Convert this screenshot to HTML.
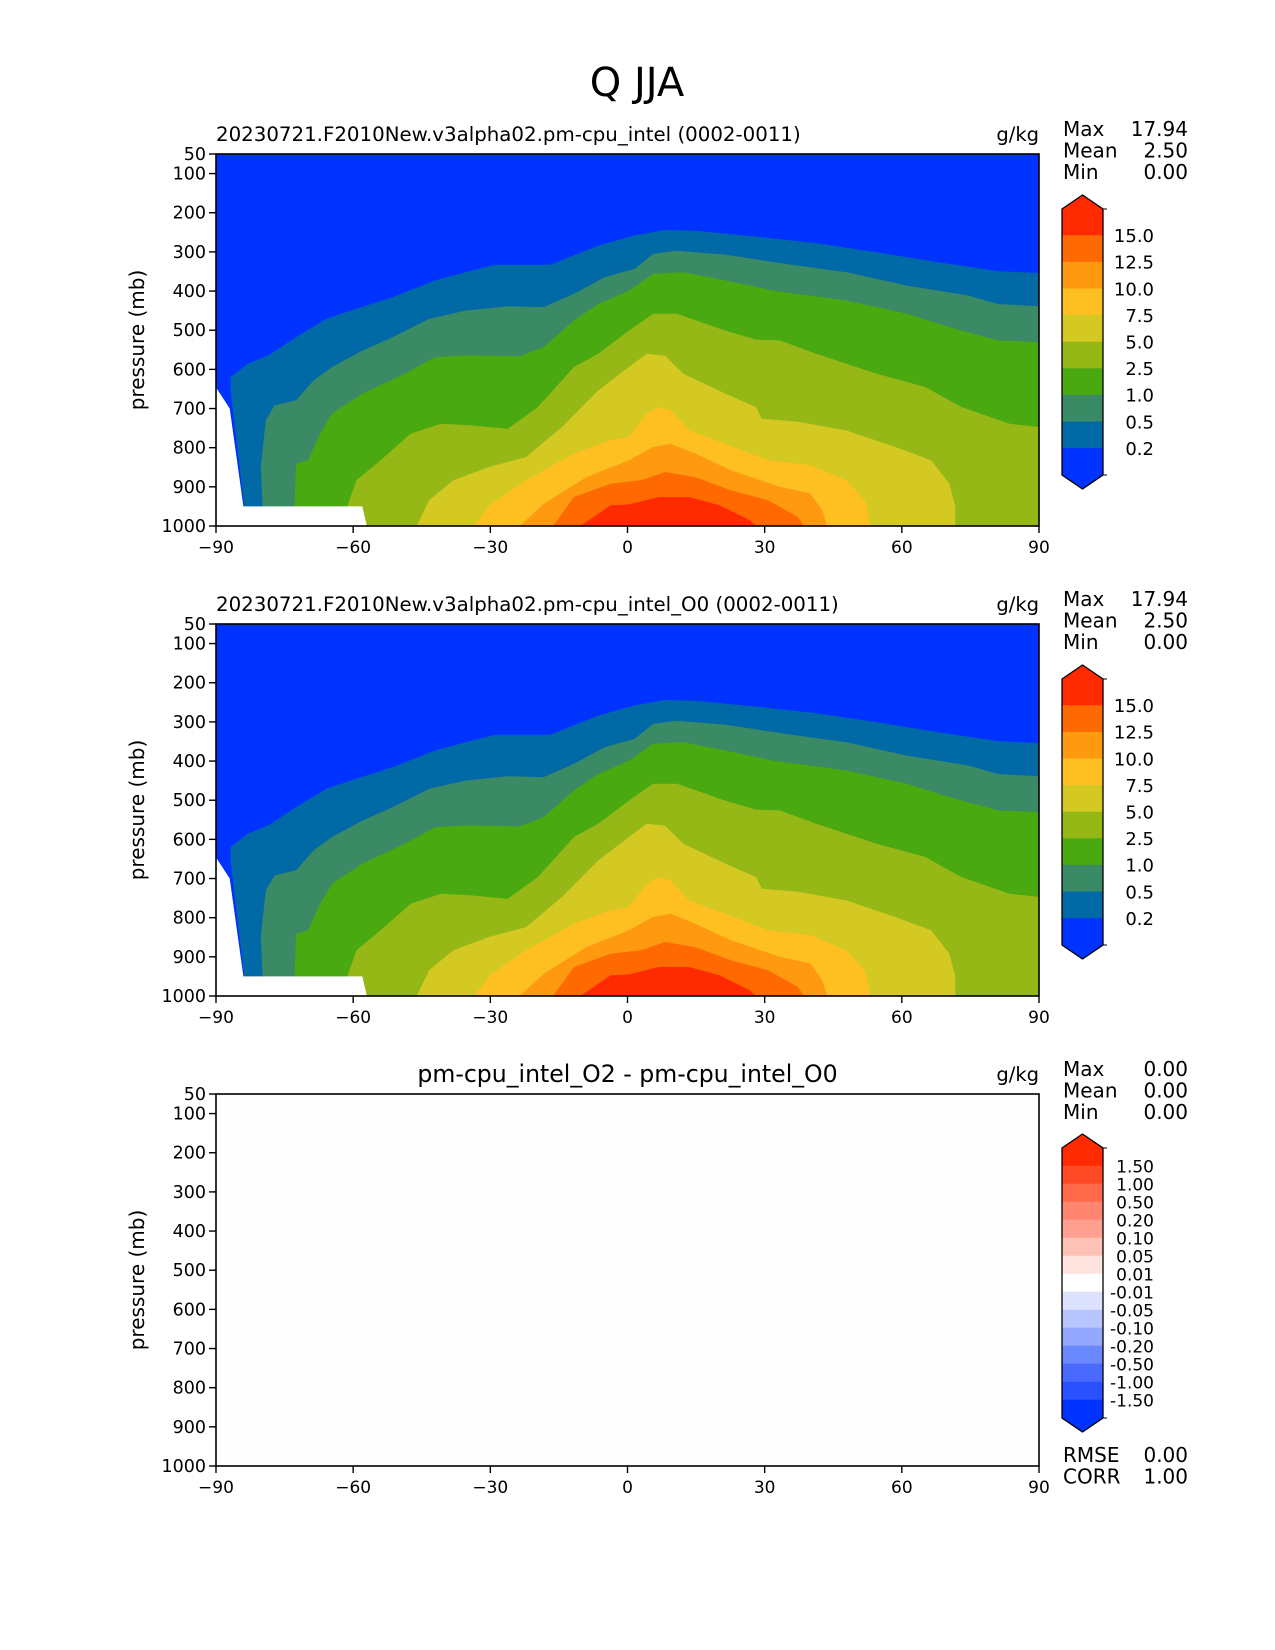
<!DOCTYPE html>
<html><head><meta charset="utf-8"><style>
html,body{margin:0;padding:0;background:#fff;}
svg{display:block;font-family:"DejaVu Sans","Liberation Sans",sans-serif;}
</style></head><body>
<svg id="fig" width="1275" height="1650" viewBox="0 0 1275 1650" xmlns="http://www.w3.org/2000/svg">
<rect width="1275" height="1650" fill="#fff"/>
<text x="637" y="96" font-size="40" text-anchor="middle">Q JJA</text>
</svg>
<script>
// ---- data ----
const levelValues = [0.2, 0.5, 1.0, 2.5, 5.0, 7.5, 10.0, 12.5, 15.0];
const levelColors = ["#0069a6","#3a8a66","#4aa810","#96b817","#d4c822","#fdc020","#ff9a10","#ff6a00","#ff2a00"];
const belowColor = "#0033ff";
const cbLabels1 = ["15.0","12.5","10.0","7.5","5.0","2.5","1.0","0.5","0.2"];
const diffLabels = ["1.50","1.00","0.50","0.20","0.10","0.05","0.01","-0.01","-0.05","-0.10","-0.20","-0.50","-1.00","-1.50"];
const diffColors = ["#ff2a00","#ff4a25","#ff6a4a","#ff8570","#ffa090","#ffc0b5","#ffe3df","#ffffff","#dde3ff","#b8c6ff","#95a8ff","#6a88ff","#4a6aff","#2a50ff","#0033ff"];
const xTicks = [-90,-60,-30,0,30,60,90];
const yTicks = [50,100,200,300,400,500,600,700,800,900,1000];
const c02 = [[-83.8,1000],[-83.8,951],[-86.8,655],[-86.8,620],[-83.1,586],[-78.5,564],[-72.5,518],[-65.9,471],[-59.3,445],[-51.4,416],[-42.1,373],[-34.2,348],[-28.9,333],[-16.9,333],[-6.4,284],[1.6,258],[8.2,244],[14.8,246],[28.1,261],[41.3,278],[54.5,301],[67.8,326],[81.0,349],[90,354]];
const c05 = [[-79.8,1000],[-79.8,951],[-80.2,849],[-79.1,730],[-77.2,692],[-72.5,679],[-68.6,628],[-64.6,594],[-58,552],[-51.4,518],[-43.4,471],[-35.5,450],[-26.2,439],[-18.3,441],[-11.7,407],[-5,365],[1.6,343],[5.6,305],[10.8,297],[21.4,307],[34.7,331],[47.9,352],[61.1,386],[74.4,411],[81,433],[90,439]];
const c10 = [[-72.8,1000],[-72.8,951],[-72.5,841],[-69.9,832],[-67.2,764],[-64.6,713],[-58,662],[-48.7,611],[-42.1,569],[-35.5,564],[-23.6,567],[-18.3,543],[-11.7,475],[-6.4,433],[0.3,399],[5.6,356],[12.2,352],[21.4,373],[32,399],[47.9,424],[61.1,458],[70.4,492],[81,526],[90,530]];
const c25 = [[-61.3,1000],[-61.3,951],[-59.3,883],[-54,832],[-47.4,764],[-40.8,739],[-34.2,743],[-26.2,752],[-19.6,696],[-11.7,594],[-6.4,560],[0.3,501],[5.6,458],[10.8,458],[21.4,501],[28.1,524],[33.3,526],[41.3,560],[54.5,611],[65.1,645],[73,696],[83.6,739],[90,747]];
const c50 = [[-46.1,1000],[-43.4,934],[-38.1,883],[-30.2,849],[-22.2,824],[-14.3,747],[-6.4,654],[0.3,594],[4.2,560],[8.2,565],[12.2,611],[21.4,662],[28.1,696],[29.4,726],[37.3,734],[47.9,756],[58.5,798],[66.4,832],[70.4,892],[71.7,951],[71.7,1000]];
const c75 = [[-33.5,1000],[-30.2,947],[-22.2,883],[-11.7,815],[-3.7,781],[0.3,773],[4.2,713],[6.8,696],[9.5,705],[13.5,756],[21.4,790],[30.7,832],[40,845],[47.9,883],[51.9,934],[53.2,1000]];
const c100 = [[-23.6,1000],[-18.3,943],[-9,875],[0.3,832],[5.6,798],[9.5,790],[14.8,815],[22.7,858],[33.3,900],[40,917],[42.6,960],[43.7,1000]];
const c125 = [[-16.3,1000],[-11.7,926],[-3.7,892],[2.9,883],[8.2,862],[14.8,875],[22.7,909],[30.7,934],[37.3,977],[38.6,1000]];
const c150 = [[-10.3,1000],[-3.7,947],[0.3,945],[6.8,926],[13.5,926],[20.1,947],[26.7,985],[28.1,1000]];
const contours = [c02,c05,c10,c25,c50,c75,c100,c125,c150];
const groundMask = [[-90,646],[-87,700],[-84,950],[-58,950],[-57,1000],[-90,1000]];
const panelTitles = ["20230721.F2010New.v3alpha02.pm-cpu_intel (0002-0011)","20230721.F2010New.v3alpha02.pm-cpu_intel_O0 (0002-0011)","pm-cpu_intel_O2 - pm-cpu_intel_O0"];
const statNames = ["Max","Mean","Min"];
const statVals = [["17.94","2.50","0.00"],["17.94","2.50","0.00"],["0.00","0.00","0.00"]];

// ---- drawing ----
const NS="http://www.w3.org/2000/svg";
const fig=document.getElementById('fig');
function mk(tag,attrs,parent){const e=document.createElementNS(NS,tag);for(const k in attrs)e.setAttribute(k,attrs[k]);(parent||fig).appendChild(e);return e;}
const X0=216,X1=1039;
const panelTops=[154,624,1094];
const PH=372;
function xs(lat){return X0+(lat+90)/180*(X1-X0);}
function ysF(top){return p=>top+(p-50)/950*PH;}

panelTops.forEach((top,pi)=>{
  const ys=ysF(top);
  const g=mk('g',{});
  
  
  const cp=mk('clipPath',{id:'clip'+pi},g);
  mk('rect',{x:X0,y:top,width:X1-X0,height:PH},cp);
  const plot=mk('g',{'clip-path':'url(#clip'+pi+')'},g);
  
  
  if(pi<2){
    const bg=mk('rect',{x:X0,y:top,width:X1-X0,height:PH,fill:belowColor},plot);
    
    
    contours.forEach((c,k)=>{
      const pts=c.map(d=>xs(d[0]).toFixed(1)+','+ys(d[1]).toFixed(1));
      pts.push(xs(c[c.length-1][0]).toFixed(1)+','+ys(1000).toFixed(1));
      pts.push(xs(c[0][0]).toFixed(1)+','+ys(1000).toFixed(1));
      const poly=mk('polygon',{points:pts.join(' '),fill:levelColors[k]},plot);
      
      
    });
    const m=mk('polygon',{points:groundMask.map(d=>xs(d[0]).toFixed(1)+','+ys(d[1]).toFixed(1)).join(' '),fill:'#fff'},plot);
    
    
  } else {
    const bg=mk('rect',{x:X0,y:top,width:X1-X0,height:PH,fill:'#fefefe'},plot);
    
    
  }
  const frame=mk('rect',{x:X0,y:top,width:X1-X0,height:PH,fill:'none',stroke:'#000','stroke-width':1.6},g);
  
  
  yTicks.forEach(v=>{
    const y=ys(v);
    mk('line',{x1:X0-7,x2:X0,y1:y,y2:y,stroke:'#000','stroke-width':1.4},g);
    const t=mk('text',{x:X0-10,y:y+6,'font-size':17.5,'text-anchor':'end'},g);
    t.textContent=v;
    
    
  });
  xTicks.forEach(v=>{
    const x=xs(v);
    mk('line',{x1:x,x2:x,y1:top+PH,y2:top+PH+7,stroke:'#000','stroke-width':1.4},g);
    const t=mk('text',{x:x,y:top+PH+27,'font-size':17,'text-anchor':'middle'},g);
    t.textContent=(v<0?'\u2212'+(-v):String(v));
    
    
  });
  const yl=mk('text',{x:0,y:0,'font-size':20,'text-anchor':'middle',transform:'translate(144,'+(top+PH/2)+') rotate(-90)'},g);
  yl.textContent='pressure (mb)';
  
  
  const tt=mk('text',pi<2?{x:X0,y:top-13,'font-size':19.8}:{x:(X0+X1)/2,y:top-12,'font-size':23.6,'text-anchor':'middle'},g);
  tt.textContent=panelTitles[pi];
  
  
  const un=mk('text',{x:X1,y:top-13,'font-size':19.5,'text-anchor':'end'},g);
  un.textContent='g/kg';
  
  
  statNames.forEach((s,i)=>{
    const a=mk('text',{x:1063,y:top-18+i*21.5,'font-size':20},g);
    a.textContent=s;
    
    
    const b=mk('text',{x:1188,y:top-18+i*21.5,'font-size':20,'text-anchor':'end'},g);
    b.textContent=statVals[pi][i];
    
    
  });
  // colorbar
  const cb=mk('g',{},g);
  
  
  const L=1062,R=1103,M=(L+R)/2;
  let bodyTop,seg,cols,labs,fs;
  if(pi<2){bodyTop=top+55;seg=26.6;labs=cbLabels1;fs=18;
    cols=[levelColors[8],levelColors[7],levelColors[6],levelColors[5],levelColors[4],levelColors[3],levelColors[2],levelColors[1],levelColors[0],belowColor];}
  else{bodyTop=top+54;seg=18;cols=diffColors;labs=diffLabels;fs=17;}
  const n=cols.length, bodyBot=bodyTop+n*seg, tip=14;
  mk('polygon',{points:`${L},${bodyTop} ${M},${bodyTop-tip} ${R},${bodyTop}`,fill:cols[0]},cb);
  mk('polygon',{points:`${L},${bodyBot} ${M},${bodyBot+tip} ${R},${bodyBot}`,fill:cols[n-1]},cb);
  cols.forEach((c,i)=>{
    const r=mk('rect',{x:L,y:bodyTop+i*seg-0.3,width:R-L,height:seg+0.6,fill:c},cb);
    
    
  });
  mk('polygon',{points:`${L},${bodyTop} ${M},${bodyTop-tip} ${R},${bodyTop} ${R},${bodyBot} ${M},${bodyBot+tip} ${L},${bodyBot}`,fill:'none',stroke:'#000','stroke-width':1.3},cb);
  mk('line',{x1:R,x2:R+4,y1:bodyTop,y2:bodyTop,stroke:'#000','stroke-width':1},cb);
  mk('line',{x1:R,x2:R+4,y1:bodyBot,y2:bodyBot,stroke:'#000','stroke-width':1},cb);
  labs.forEach((l,i)=>{
    const y=bodyTop+(i+1)*seg;
    const t=mk('text',{x:1154,y:y+6.5,'font-size':fs,'text-anchor':'end'},cb);
    t.textContent=l;
    
    
  });
  if(pi==2){
    [["RMSE","0.00"],["CORR","1.00"]].forEach((r,i)=>{
      const a=mk('text',{x:1063,y:1462+i*21.5,'font-size':20},g);
      a.textContent=r[0];
      
      
      const b=mk('text',{x:1188,y:1462+i*21.5,'font-size':20,'text-anchor':'end'},g);
      b.textContent=r[1];
      
      
    });
  }
});
</script>
</body></html>
